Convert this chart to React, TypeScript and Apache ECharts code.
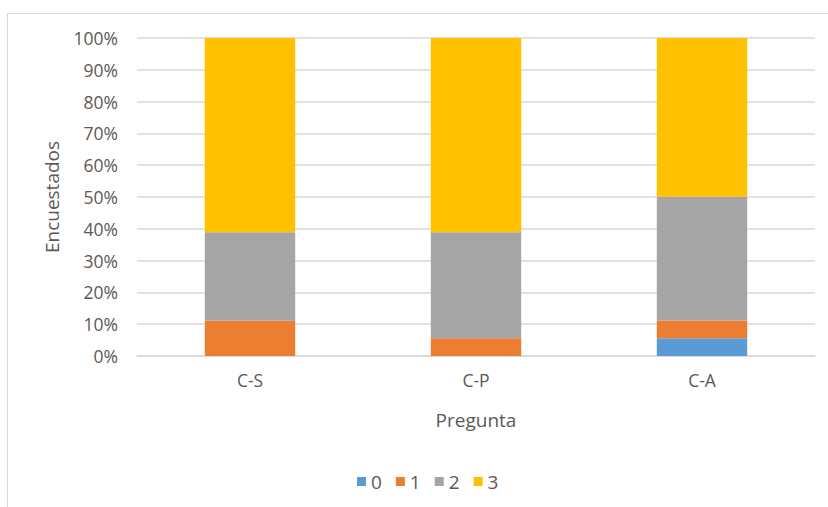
import React, { useEffect, useRef } from "react";
import * as echarts from "echarts";

const categories = ["C-S", "C-P", "C-A"];
const seriesNames = ["0", "1", "2", "3"];
const values0 = [0, 0, 5.6];
const values1 = [11.1, 5.6, 5.6];
const values2 = [27.8, 33.3, 38.9];
const values3 = [61.1, 61.1, 50.0];
const colors = ["#5B9BD5", "#ED7D31", "#A5A5A5", "#FFC000"];

const FONT = "Open Sans";
const TXT = "#595959";

export default function App() {
  const ref = useRef<HTMLDivElement>(null);
  useEffect(() => {
    if (!ref.current) return;
    const chart = echarts.init(ref.current, undefined, { renderer: "svg" });
    const data = [values0, values1, values2, values3];
    chart.setOption({
      animation: false,
      backgroundColor: "#ffffff",
      textStyle: { fontFamily: FONT },
      graphic: [
        {
          type: "rect",
          shape: { x: 7.5, y: 13.5, width: 840, height: 520 },
          style: { fill: "none", stroke: "#d9d9d9", lineWidth: 1 },
          silent: true,
        },
      ],
      grid: { left: 137, right: 13, top: 38, bottom: 151 },
      legend: {
        data: seriesNames,
        bottom: 11,
        left: 352,
        itemWidth: 9,
        itemHeight: 9,
        itemGap: 14,
        icon: "rect",
        textStyle: { color: TXT, fontSize: 19, fontFamily: FONT },
      },
      xAxis: {
        type: "category",
        data: categories,
        name: "Pregunta",
        nameLocation: "middle",
        nameGap: 54,
        nameTextStyle: { color: TXT, fontSize: 19, fontFamily: FONT },
        axisLine: { lineStyle: { color: "#d9d9d9", width: 1.5 } },
        axisTick: { show: false },
        axisLabel: { color: TXT, fontSize: 17.5, margin: 15, fontFamily: FONT },
      },
      yAxis: {
        type: "value",
        min: 0,
        max: 100,
        interval: 10,
        name: "Encuestados",
        nameLocation: "middle",
        nameGap: 76,
        nameTextStyle: { color: TXT, fontSize: 19, fontFamily: FONT },
        axisLine: { show: false },
        axisTick: { show: false },
        axisLabel: {
          color: TXT,
          fontSize: 17.5,
          margin: 19,
          fontFamily: FONT,
          formatter: "{value}%",
        },
        splitLine: { lineStyle: { color: "#d9d9d9", width: 1.5 } },
      },
      series: seriesNames.map((n, i) => ({
        name: n,
        type: "bar",
        stack: "total",
        barWidth: "40%",
        data: data[i],
        itemStyle: { color: colors[i] },
      })),
    });
    return () => chart.dispose();
  }, []);
  return (
    <div
      ref={ref}
      style={{ position: "fixed", left: 0, top: 0, width: 828, height: 507 }}
    />
  );
}
